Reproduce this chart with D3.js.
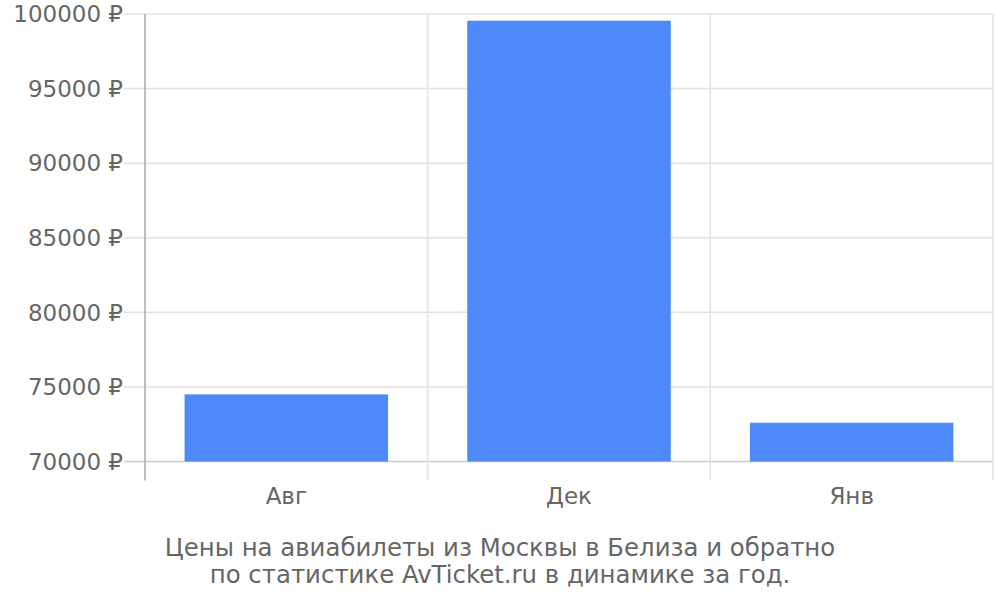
<!DOCTYPE html>
<html>
<head>
<meta charset="utf-8">
<script src="https://cdn.jsdelivr.net/npm/d3@7"></script>
<style>
  body { margin: 0; background: #fff; }
  text { font-family: "DejaVu Sans", sans-serif; fill: #666; }
</style>
</head>
<body>
<div id="chart"></div>
<script>
// data
const months = ["Авг", "Дек", "Янв"];
const prices = [74500, 99550, 72600];
const yTicks = [70000, 75000, 80000, 85000, 90000, 95000, 100000];
const captionLines = ["Цены на авиабилеты из Москвы в Белиза и обратно",
                      "по статистике AvTicket.ru в динамике за год."];

const width = 1000, height = 600;
const plotLeft = 145, plotRight = 993, plotTop = 14, plotBottom = 461.5;

const svg = d3.select("#chart").append("svg")
    .attr("width", width)
    .attr("height", height);

var x = d3.scaleBand().domain(months).range([plotLeft, plotRight])
    .paddingInner(0.28).paddingOuter(0.14);
var y = d3.scaleLinear().domain([70000, 100000]).range([plotBottom, plotTop]);

// horizontal grid, sticking out to the left as tick marks
svg.selectAll(".hgrid")
    .data(yTicks)
    .enter()
    .append("line")
    .attr("x1", plotLeft - 21)
    .attr("x2", plotRight)
    .attr("y1", d => y(d))
    .attr("y2", d => y(d))
    .attr("stroke", d => d === 70000 ? "#ccc" : "#e2e2e2")
    .attr("stroke-width", 1.5);

// vertical grid on category borders
var borders = months.map(m => x(m) - x.step() * x.paddingInner() / 2);
borders.push(plotRight);
svg.selectAll(".vgrid")
    .data(borders.slice(1))
    .enter()
    .append("line")
    .attr("x1", d => d)
    .attr("x2", d => d)
    .attr("y1", plotTop)
    .attr("y2", plotBottom + 19)
    .attr("stroke", "#e2e2e2")
    .attr("stroke-width", 1.5);

// left axis line
svg.append("line")
    .attr("x1", plotLeft).attr("x2", plotLeft)
    .attr("y1", plotTop).attr("y2", plotBottom + 19)
    .attr("stroke", "#aaa")
    .attr("stroke-width", 1.5);

svg.selectAll(".bar")
    .data(prices)
    .enter()
    .append("rect")
    .attr("x", (d, i) => x(months[i]))
    .attr("y", d => y(d))
    .attr("width", x.bandwidth())
    .attr("height", d => y(70000) - y(d))
    .attr("fill", "#4e89f9");

svg.selectAll(".ylab")
    .data(yTicks)
    .enter()
    .append("text")
    .attr("x", plotLeft - 22)
    .attr("y", d => y(d))
    .attr("dy", "0.36em")
    .attr("text-anchor", "end")
    .style("font-size", "23px")
    .text(d => d + " ₽");

svg.selectAll(".xlab")
    .data(months)
    .enter()
    .append("text")
    .attr("x", d => x(d) + x.bandwidth() / 2)
    .attr("y", 504)
    .attr("text-anchor", "middle")
    .style("font-size", "23px")
    .text(d => d);

svg.selectAll(".caption")
    .data(captionLines)
    .enter()
    .append("text")
    .attr("x", 500)
    .attr("y", (d, i) => 556 + i * 27)
    .attr("text-anchor", "middle")
    .style("font-size", "24.4px")
    .text(d => d);
</script>
</body>
</html>
